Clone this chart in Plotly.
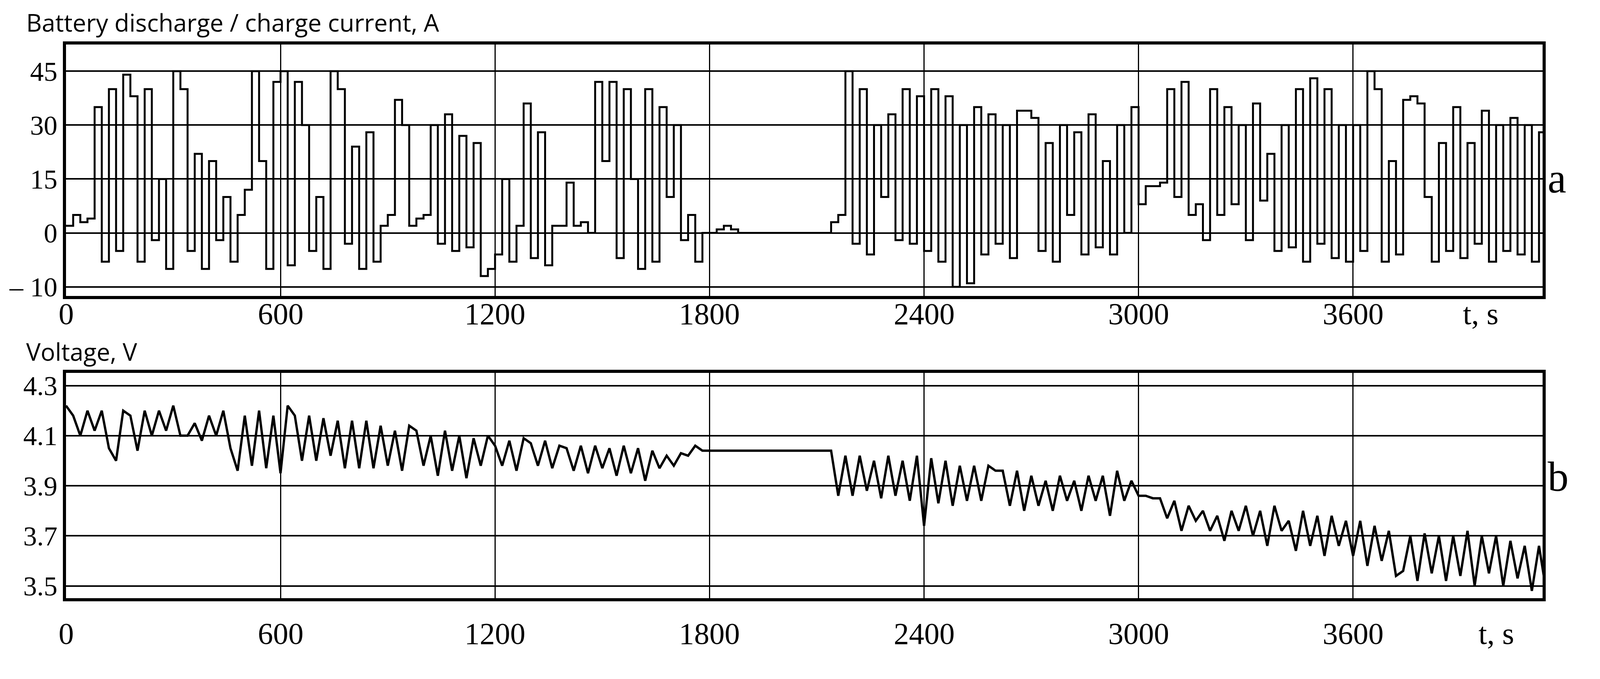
import plotly.graph_objects as go

t_cur = list(range(0, 4160, 20))
current = [2, 5, 3, 4, 35, -8, 40, -5, 44, 38, -8, 40, -2, 15, -10, 45, 40, -5, 22, -10,
           20, -2, 10, -8, 5, 12, 45, 20, -10, 42, 45, -9, 42, 30, -5, 10, -10, 45, 40, -3,
           24, -10, 28, -8, 2, 5, 37, 30, 2, 4, 5, 30, -3, 33, -5, 27, -4, 25, -12, -10,
           -6, 15, -8, 2, 36, -7, 28, -9, 2, 2, 14, 2, 3, 0, 42, 20, 42, -7, 40, 15,
           -10, 40, -8, 35, 10, 30, -2, 5, -8, 0, 0, 1, 2, 1, 0, 0, 0, 0, 0, 0,
           0, 0, 0, 0, 0, 0, 0, 3, 5, 45, -3, 40, -6, 30, 10, 33, -2, 40, -3, 38,
           -5, 40, -8, 38, -15, 30, -14, 35, -6, 33, -3, 30, -7, 34, 34, 32, -5, 25, -8, 30,
           5, 28, -6, 33, -4, 20, -6, 30, 0, 35, 8, 13, 13, 14, 40, 10, 42, 5, 8, -2,
           40, 5, 35, 8, 30, -2, 36, 9, 22, -5, 30, -4, 40, -8, 43, -3, 40, -7, 30, -8,
           30, -5, 45, 40, -8, 20, -6, 37, 38, 36, 10, -8, 25, -5, 35, -7, 25, -3, 34, -8,
           30, -5, 32, -6, 30, -8, 28, 0]

t_volt = list(range(0, 4160, 20))
voltage = [4.22, 4.18, 4.10, 4.20, 4.12, 4.20, 4.05, 4.00, 4.20, 4.18, 4.04, 4.20, 4.10, 4.20, 4.12, 4.22, 4.10, 4.10, 4.15, 4.08,
           4.18, 4.10, 4.20, 4.05, 3.96, 4.18, 3.98, 4.20, 3.97, 4.18, 3.95, 4.22, 4.18, 4.00, 4.18, 4.00, 4.17, 4.02, 4.16, 3.97,
           4.16, 3.97, 4.16, 3.97, 4.14, 3.98, 4.12, 3.96, 4.14, 4.12, 3.98, 4.10, 3.94, 4.12, 3.96, 4.10, 3.93, 4.09, 3.98, 4.10,
           4.06, 3.98, 4.08, 3.96, 4.09, 4.07, 3.98, 4.08, 3.97, 4.06, 4.05, 3.96, 4.06, 3.95, 4.06, 3.97, 4.05, 3.94, 4.06, 3.95,
           4.05, 3.92, 4.04, 3.97, 4.02, 3.98, 4.03, 4.02, 4.06, 4.04, 4.04, 4.04, 4.04, 4.04, 4.04, 4.04, 4.04, 4.04, 4.04, 4.04,
           4.04, 4.04, 4.04, 4.04, 4.04, 4.04, 4.04, 4.04, 3.86, 4.02, 3.86, 4.02, 3.88, 4.00, 3.85, 4.02, 3.86, 4.00, 3.84, 4.02,
           3.74, 4.01, 3.83, 4.00, 3.82, 3.98, 3.84, 3.98, 3.84, 3.98, 3.96, 3.96, 3.82, 3.96, 3.80, 3.94, 3.82, 3.92, 3.80, 3.94,
           3.84, 3.92, 3.80, 3.94, 3.84, 3.94, 3.78, 3.96, 3.84, 3.92, 3.86, 3.86, 3.85, 3.85, 3.77, 3.84, 3.72, 3.82, 3.76, 3.80,
           3.72, 3.78, 3.68, 3.80, 3.72, 3.82, 3.70, 3.80, 3.66, 3.82, 3.72, 3.76, 3.64, 3.80, 3.66, 3.78, 3.62, 3.78, 3.66, 3.76,
           3.62, 3.76, 3.58, 3.74, 3.60, 3.72, 3.54, 3.56, 3.70, 3.52, 3.71, 3.55, 3.70, 3.52, 3.70, 3.54, 3.72, 3.50, 3.70, 3.55,
           3.70, 3.50, 3.68, 3.53, 3.66, 3.48, 3.66, 3.48]

x_ticks = [0, 600, 1200, 1800, 2400, 3000, 3600]
x_labels = ["0", "600", "1200", "1800", "2400", "3000", "3600"]
cur_ticks = [-15, 0, 15, 30, 45]
cur_labels = ["– 10", "0", "15", "30", "45"]
volt_ticks = [3.5, 3.7, 3.9, 4.1, 4.3]
volt_labels = ["3.5", "3.7", "3.9", "4.1", "4.3"]

serif = "Liberation Serif"
sans = "Open Sans"
fig = go.Figure()
fig.add_trace(go.Scatter(x=t_cur, y=current, mode="lines", line=dict(color="black", width=5, shape="hv"),
                         xaxis="x", yaxis="y", showlegend=False))
fig.add_trace(go.Scatter(x=t_volt, y=voltage, mode="lines", line=dict(color="black", width=6),
                         xaxis="x2", yaxis="y2", showlegend=False))

ax = dict(range=[0, 4130], tickvals=x_ticks, showticklabels=False, showgrid=True, gridcolor="black", gridwidth=3,
          showline=True, linecolor="black", linewidth=8, mirror=True, zeroline=False, ticks="")
ay = dict(showgrid=True, gridcolor="black", gridwidth=4, zeroline=False, showline=True,
          linecolor="black", linewidth=8, mirror=True, ticks="",
          tickfont=dict(family=serif, size=70, color="black"))
fig.update_layout(
    width=4100, height=1686, autosize=False, paper_bgcolor="white", plot_bgcolor="white",
    margin=dict(l=161, r=159, t=106, b=162),
    xaxis=dict(domain=[0, 1], anchor="y", **ax),
    xaxis2=dict(domain=[0, 1], anchor="y2", **ax),
    yaxis=dict(domain=[0.546, 1], range=[-17.5, 52.4], tickvals=cur_ticks, ticktext=cur_labels, **ay),
    yaxis2=dict(domain=[0, 0.407], range=[3.451, 4.351], tickvals=volt_ticks, ticktext=volt_labels, **ay),
)
ann = [
    dict(text="Battery discharge / charge current, A", x=-0.0275, y=1.04, xanchor="left", yanchor="middle",
         font=dict(family=sans, size=62)),
    dict(text="Voltage, V", x=-0.0275, y=0.446, xanchor="left", yanchor="middle", font=dict(family=sans, size=62)),
    dict(text="a", x=1.003, y=0.758, xanchor="left", yanchor="middle", font=dict(family=serif, size=107)),
    dict(text="b", x=1.003, y=0.219, xanchor="left", yanchor="middle", font=dict(family=serif, size=107)),
]
for a in ann:
    fig.add_annotation(xref="paper", yref="paper", showarrow=False, font_color="black", **a)
tf = dict(family=serif, size=78, color="black")
for yy, tsx in ((0.514, 3957), (-0.064, 4000)):
    for xv, xl in zip(x_ticks, x_labels):
        fig.add_annotation(text=xl, x=xv, xref="x", y=yy, yref="paper", yanchor="middle", showarrow=False, font=tf)
    fig.add_annotation(text="t, s", x=tsx, xref="x", y=yy, yref="paper", yanchor="middle", showarrow=False, font=tf)
fig.write_html("out.html")
